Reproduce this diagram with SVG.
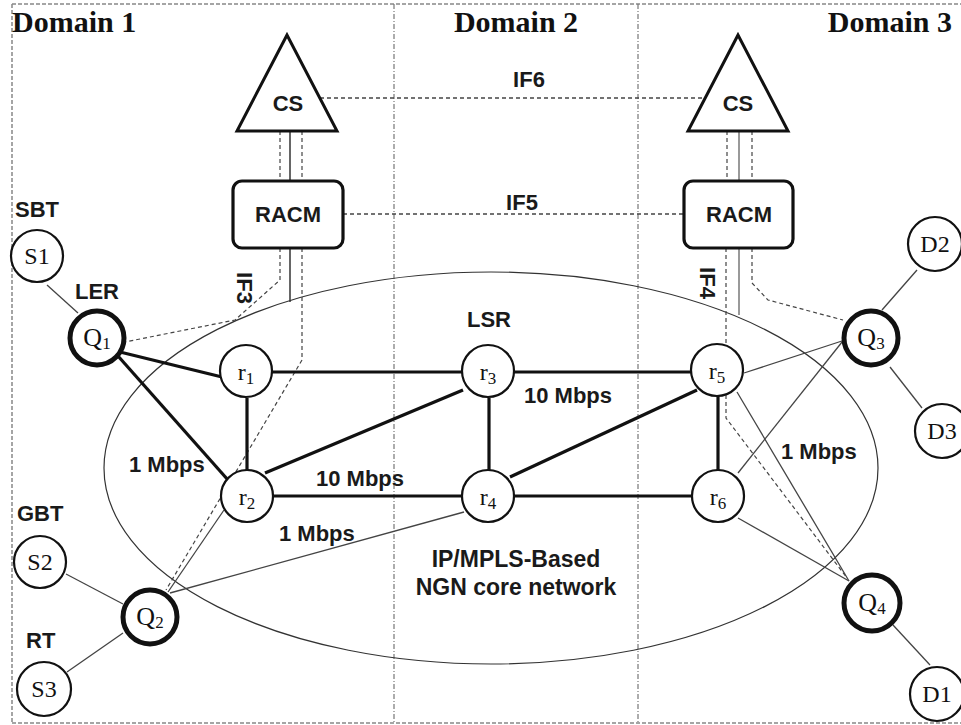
<svg xmlns="http://www.w3.org/2000/svg" width="961" height="725" viewBox="0 0 961 725">
<style>
.border{stroke:#888;stroke-width:1.5;stroke-dasharray:4 2;fill:none}
.sep{stroke:#777;stroke-width:1.2;stroke-dasharray:5 2 1 2;fill:none}
.ifl{stroke:#444;stroke-width:1.3;stroke-dasharray:4 3;fill:none}
.thick{stroke:#111;stroke-width:3.2;fill:none}
.thin{stroke:#444;stroke-width:1.3;fill:none}
.sig{stroke:#444;stroke-width:1.2;stroke-dasharray:4 3;fill:none}
.node{fill:#fff;stroke:#111;stroke-width:2.2}
.qnode{fill:#fff;stroke:#111;stroke-width:5}
.ell{fill:none;stroke:#333;stroke-width:1.2}
.dom{font-family:"Liberation Serif","Times New Roman",serif;font-weight:bold;font-size:30px;fill:#111}
.lbl{font-family:"Liberation Sans",Arial,sans-serif;font-weight:bold;font-size:22px;fill:#1a1a1a}
.big{font-family:"Liberation Sans",Arial,sans-serif;font-weight:bold;font-size:23px;fill:#1a1a1a}
.nt{font-family:"Liberation Serif","Times New Roman",serif;font-size:24px;fill:#111;text-anchor:middle}
.qt{font-family:"Liberation Serif","Times New Roman",serif;font-size:26px;fill:#111;text-anchor:middle}
.mid{text-anchor:middle}
</style>
<g id="frame">
<line class="border" x1="12" y1="4" x2="961" y2="4"/>
<line class="border" x1="12" y1="723" x2="961" y2="723"/>
<line class="border" x1="12" y1="4" x2="12" y2="723"/>
<line class="sep" x1="394" y1="4" x2="394" y2="723"/>
<line class="sep" x1="638" y1="4" x2="638" y2="723"/>
<text class="dom" x="12" y="32">Domain 1</text>
<text class="dom mid" x="516" y="32">Domain 2</text>
<text class="dom" x="952" y="32" text-anchor="end">Domain 3</text>
</g>
<g id="core-network">
<ellipse class="ell" cx="491" cy="468" rx="387" ry="196"/>
<text class="big mid" x="516" y="567">IP/MPLS-Based</text>
<text class="big mid" x="516" y="595">NGN core network</text>
</g>
<g id="connectors">
<line class="ifl" x1="320" y1="98" x2="705" y2="98"/>
<text class="lbl mid" x="529" y="87">IF6</text>
<line class="ifl" x1="343" y1="214" x2="684" y2="214"/>
<text class="lbl mid" x="522" y="210">IF5</text>
<line class="sig" x1="280" y1="131" x2="280" y2="181"/>
<line x1="290" y1="131" x2="290" y2="181" stroke="#333" stroke-width="1.5"/>
<line class="sig" x1="302" y1="131" x2="302" y2="181"/>
<line class="sig" x1="727" y1="131" x2="727" y2="181"/>
<line x1="739" y1="131" x2="739" y2="181" stroke="#999" stroke-width="2"/>
<line class="sig" x1="752" y1="131" x2="752" y2="181"/>
<line x1="290" y1="248" x2="290" y2="302" stroke="#333" stroke-width="1.5"/>
<line x1="739" y1="248" x2="739" y2="315" stroke="#999" stroke-width="2"/>
<path class="sig" d="M280 248 V280 L235 320 L125 342"/>
<path class="sig" d="M302 248 V360 L166 590"/>
<path class="sig" d="M752 248 V283 L768 300 L843 320"/>
<path class="sig" d="M726 248 V418 L847 578"/>
<text class="lbl mid" transform="translate(245,288) rotate(90)" x="0" y="8">IF3</text>
<text class="lbl mid" transform="translate(708,283) rotate(90)" x="0" y="8">IF4</text>
<line class="thick" x1="120" y1="352" x2="222" y2="377"/>
<line class="thick" x1="118" y1="356" x2="228" y2="480"/>
<line class="thick" x1="247" y1="398" x2="247" y2="470"/>
<line class="thick" x1="272" y1="372" x2="462" y2="372"/>
<line class="thick" x1="514" y1="372" x2="691" y2="372"/>
<line class="thick" x1="265" y1="473" x2="463" y2="390"/>
<line class="thick" x1="489" y1="398" x2="489" y2="470"/>
<line class="thick" x1="273" y1="496" x2="462" y2="496"/>
<line class="thick" x1="514" y1="496" x2="692" y2="496"/>
<line class="thick" x1="510" y1="477" x2="697" y2="390"/>
<line class="thick" x1="718" y1="396" x2="718" y2="470"/>
<line class="thin" x1="47" y1="285" x2="78" y2="313"/>
<line class="thin" x1="66" y1="574" x2="123" y2="604"/>
<line class="thin" x1="67" y1="672" x2="123" y2="633"/>
<line class="thin" x1="168" y1="592" x2="224" y2="510"/>
<line class="thin" x1="170" y1="593" x2="464" y2="512"/>
<line class="thin" x1="744" y1="373" x2="845" y2="340"/>
<line class="thin" x1="738" y1="473" x2="846" y2="337"/>
<line class="thin" x1="737" y1="392" x2="849" y2="581"/>
<line class="thin" x1="738" y1="518" x2="849" y2="581"/>
<line class="thin" x1="882" y1="310" x2="917" y2="270"/>
<line class="thin" x1="890" y1="367" x2="922" y2="408"/>
<line class="thin" x1="893" y1="625" x2="930" y2="665"/>
<text class="lbl" x="129" y="472">1 Mbps</text>
<text class="lbl" x="524" y="403">10 Mbps</text>
<text class="lbl" x="316" y="486">10 Mbps</text>
<text class="lbl" x="279" y="541">1 Mbps</text>
<text class="lbl" x="781" y="459">1 Mbps</text>
</g>
<g id="CS1">
<polygon points="287,35 237,131 337,131" fill="#fff" stroke="#111" stroke-width="3" stroke-linejoin="miter"/>
<text class="lbl mid" x="288" y="111">CS</text>
</g>
<g id="CS2">
<polygon points="738,35 688,131 788,131" fill="#fff" stroke="#111" stroke-width="3"/>
<text class="lbl mid" x="738" y="111">CS</text>
</g>
<g id="RACM1">
<rect x="233" y="181" width="110" height="67" rx="9" fill="#fff" stroke="#111" stroke-width="3.2"/>
<text class="lbl mid" x="288" y="222">RACM</text>
</g>
<g id="RACM2">
<rect x="684" y="181" width="109" height="67" rx="9" fill="#fff" stroke="#111" stroke-width="3.2"/>
<text class="lbl mid" x="739" y="222">RACM</text>
</g>
<g id="S1"><circle class="node" cx="37" cy="256" r="26"/><text class="nt" x="37" y="264">S1</text><text class="lbl" x="15" y="217">SBT</text></g>
<g id="S2"><circle class="node" cx="40" cy="562" r="26"/><text class="nt" x="40" y="570">S2</text><text class="lbl" x="17" y="521">GBT</text></g>
<g id="S3"><circle class="node" cx="44" cy="689" r="27"/><text class="nt" x="44" y="697">S3</text><text class="lbl" x="26" y="648">RT</text></g>
<g id="D1"><circle class="node" cx="937" cy="694" r="27"/><text class="nt" x="937" y="702">D1</text></g>
<g id="D2"><circle class="node" cx="935" cy="244" r="27"/><text class="nt" x="935" y="252">D2</text></g>
<g id="D3"><circle class="node" cx="942" cy="431" r="27"/><text class="nt" x="942" y="439">D3</text></g>
<g id="Q1"><circle class="qnode" cx="97" cy="338" r="27"/><text class="qt" x="97" y="346">Q<tspan font-size="17" dy="3">1</tspan></text><text class="lbl" x="75" y="299">LER</text></g>
<g id="Q2"><circle class="qnode" cx="150" cy="617" r="27"/><text class="qt" x="150" y="625">Q<tspan font-size="17" dy="3">2</tspan></text></g>
<g id="Q3"><circle class="qnode" cx="871" cy="338" r="27"/><text class="qt" x="871" y="346">Q<tspan font-size="17" dy="3">3</tspan></text></g>
<g id="Q4"><circle class="qnode" cx="872" cy="603" r="28"/><text class="qt" x="872" y="611">Q<tspan font-size="17" dy="3">4</tspan></text></g>
<g id="r1"><circle class="node" cx="246" cy="371" r="26"/><text class="nt" x="246" y="380">r<tspan font-size="17" dy="4">1</tspan></text></g>
<g id="r2"><circle class="node" cx="247" cy="496" r="26"/><text class="nt" x="247" y="505">r<tspan font-size="17" dy="4">2</tspan></text></g>
<g id="r3"><circle class="node" cx="488" cy="371" r="26"/><text class="nt" x="488" y="380">r<tspan font-size="17" dy="4">3</tspan></text><text class="lbl mid" x="489" y="327">LSR</text></g>
<g id="r4"><circle class="node" cx="488" cy="496" r="26"/><text class="nt" x="488" y="505">r<tspan font-size="17" dy="4">4</tspan></text></g>
<g id="r5"><circle class="node" cx="717" cy="370" r="26"/><text class="nt" x="717" y="379">r<tspan font-size="17" dy="4">5</tspan></text></g>
<g id="r6"><circle class="node" cx="718" cy="496" r="26"/><text class="nt" x="718" y="505">r<tspan font-size="17" dy="4">6</tspan></text></g>
</svg>
